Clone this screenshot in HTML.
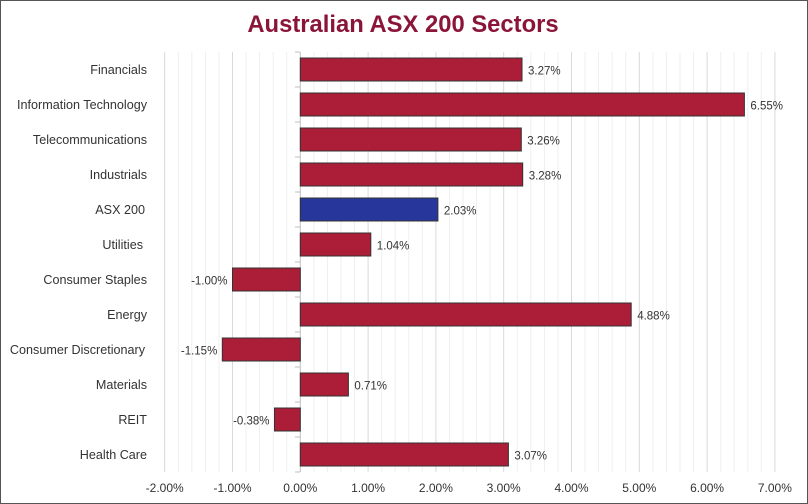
<!DOCTYPE html>
<html><head><meta charset="utf-8"><style>
body{margin:0;background:#fff;}
svg{display:block;font-family:"Liberation Sans",sans-serif;}
</style></head><body>
<svg width="808" height="504" viewBox="0 0 808 504">
<rect x="0.5" y="0.5" width="807" height="503" fill="#fff" stroke="#555"/>
<text x="403" y="32" text-anchor="middle" font-size="23.8" font-weight="bold" fill="#8B1538">Australian ASX 200 Sectors</text>
<path stroke="#efefef" stroke-width="1" fill="none" d="M178.3 52V472M191.8 52V472M205.4 52V472M218.9 52V472M246.1 52V472M259.6 52V472M273.2 52V472M286.7 52V472M313.9 52V472M327.4 52V472M341 52V472M354.5 52V472M381.7 52V472M395.2 52V472M408.8 52V472M422.3 52V472M449.5 52V472M463 52V472M476.6 52V472M490.1 52V472M517.3 52V472M530.8 52V472M544.4 52V472M557.9 52V472M585.1 52V472M598.6 52V472M612.2 52V472M625.7 52V472M652.9 52V472M666.4 52V472M680 52V472M693.5 52V472M720.7 52V472M734.2 52V472M747.8 52V472M761.3 52V472"/>
<path stroke="#d9d9d9" stroke-width="1" fill="none" d="M164.7 52V472M232.5 52V472M368.1 52V472M435.9 52V472M503.7 52V472M571.5 52V472M639.3 52V472M707.1 52V472M774.9 52V472"/>
<path stroke="#bfbfbf" stroke-width="1" fill="none" d="M300.3 52V472M295 52H300M295 87H300M295 122H300M295 157H300M295 192H300M295 227H300M295 262H300M295 297H300M295 332H300M295 367H300M295 402H300M295 437H300M295 472H300"/>
<g font-size="12" fill="#333" text-anchor="middle">
<text x="164.7" y="492">-2.00%</text><text x="232.5" y="492">-1.00%</text><text x="300.3" y="492">0.00%</text><text x="368.1" y="492">1.00%</text><text x="435.9" y="492">2.00%</text><text x="503.7" y="492">3.00%</text><text x="571.5" y="492">4.00%</text><text x="639.3" y="492">5.00%</text><text x="707.1" y="492">6.00%</text><text x="774.9" y="492">7.00%</text>
</g>
<g stroke="#333" stroke-width="1" fill="#AC1E37">
<rect x="300.3" y="58" width="221.7" height="23"/>
<rect x="300.3" y="93" width="444.1" height="23"/>
<rect x="300.3" y="128" width="221" height="23"/>
<rect x="300.3" y="163" width="222.4" height="23"/>
<rect x="300.3" y="198" width="137.6" height="23" fill="#27369A"/>
<rect x="300.3" y="233" width="70.5" height="23"/>
<rect x="232.5" y="268" width="67.8" height="23"/>
<rect x="300.3" y="303" width="330.9" height="23"/>
<rect x="222.3" y="338" width="78" height="23"/>
<rect x="300.3" y="373" width="48.1" height="23"/>
<rect x="274.5" y="408" width="25.8" height="23"/>
<rect x="300.3" y="443" width="208.1" height="23"/>
</g>
<g font-size="12.6" fill="#333" text-anchor="end">
<text x="147" y="74">Financials</text>
<text x="147" y="109">Information Technology</text>
<text x="147" y="144">Telecommunications</text>
<text x="147" y="179">Industrials</text>
<text x="145" y="214">ASX 200</text>
<text x="143" y="249">Utilities</text>
<text x="147" y="284">Consumer Staples</text>
<text x="147" y="319">Energy</text>
<text x="145" y="354">Consumer Discretionary</text>
<text x="147" y="389">Materials</text>
<text x="147" y="424">REIT</text>
<text x="147" y="459">Health Care</text>
</g>
<g font-size="11.5" fill="#333">
<text x="528" y="74.5">3.27%</text>
<text x="750.4" y="109.5">6.55%</text>
<text x="527.3" y="144.5">3.26%</text>
<text x="528.7" y="179.5">3.28%</text>
<text x="443.9" y="214.5">2.03%</text>
<text x="376.8" y="249.5">1.04%</text>
<text x="227.5" y="284.5" text-anchor="end">-1.00%</text>
<text x="637.2" y="319.5">4.88%</text>
<text x="217.3" y="354.5" text-anchor="end">-1.15%</text>
<text x="354.4" y="389.5">0.71%</text>
<text x="269.5" y="424.5" text-anchor="end">-0.38%</text>
<text x="514.4" y="459.5">3.07%</text>
</g>
</svg>
</body></html>
